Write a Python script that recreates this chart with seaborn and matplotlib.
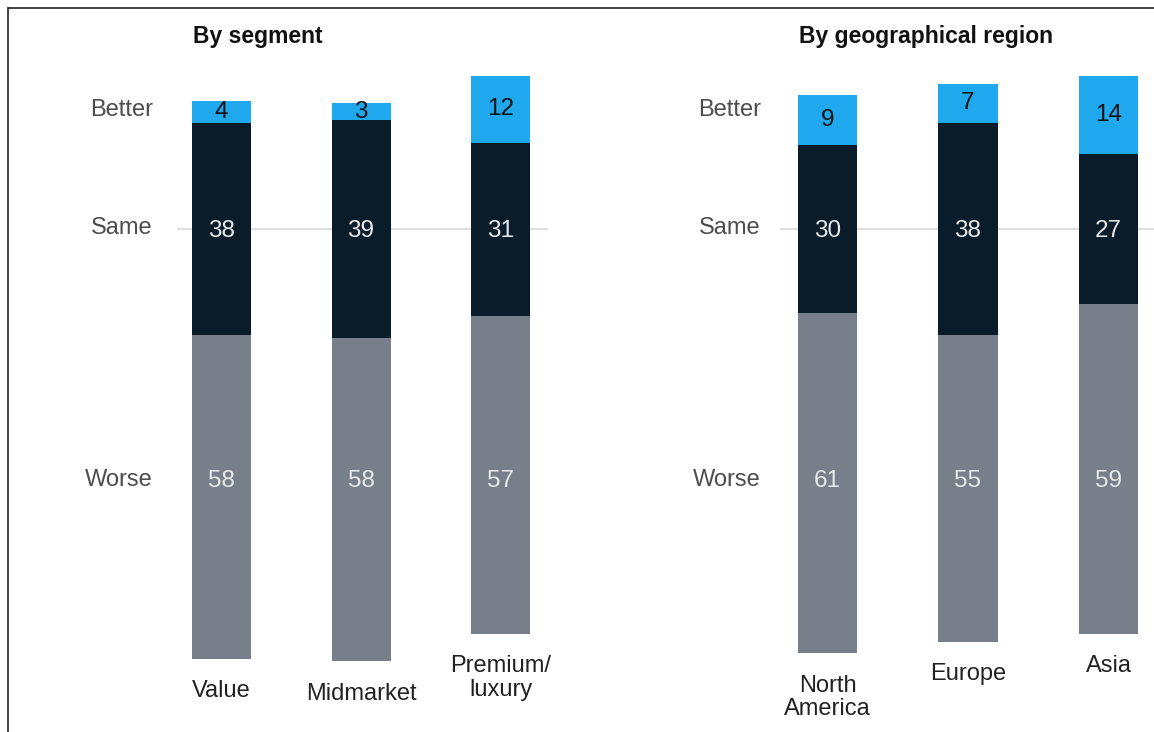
import matplotlib
matplotlib.use("Agg")
import matplotlib.pyplot as plt
from matplotlib.lines import Line2D
import seaborn as sns
import pandas as pd

# Survey shares (%), each column sums to 100
seg_labels = ["Value", "Midmarket", "Premium/\nluxury"]
seg_better = [4, 3, 12]
seg_same = [38, 39, 31]
seg_worse = [58, 58, 57]

reg_labels = ["North\nAmerica", "Europe", "Asia"]
reg_better = [9, 7, 14]
reg_same = [30, 38, 27]
reg_worse = [61, 55, 59]

row_labels = ["Better", "Same", "Worse"]

C_BETTER = "#1fa8ee"
C_SAME = "#0a1c2a"
C_WORSE = "#77808a"
C_RULE = "#dcdcdc"

sns.set_theme(style="white")
plt.rcParams["font.family"] = ["Liberation Sans", "DejaVu Sans"]

W, H = 1154, 732
fig = plt.figure(figsize=(W / 100, H / 100), dpi=100)

Y_TOP, Y_BOT = 32.08, -90.14
ROW_Y = [21.7, 0.6, -44.6]
NUM_SAME_Y = -0.4
NUM_WORSE_Y = -45.2


def panel(rect, labels, better, same, worse, xlim, title, title_x, tick_pad):
    ax = fig.add_axes(rect)
    df = pd.DataFrame({"cat": labels, "better": better, "same": same, "worse": worse})
    # bars are centred on the middle of the "same" segment
    base = [-(w + s / 2) for w, s in zip(worse, same)]
    mid = [b + w for b, w in zip(base, worse)]
    top = [m + s for m, s in zip(mid, same)]

    ax.axhline(0, color=C_RULE, lw=1.3, zorder=0)
    kw = dict(data=df, x="cat", order=labels, width=0.423, errorbar=None,
              saturation=1, linewidth=0, ax=ax, zorder=2)
    sns.barplot(y="worse", bottom=base, color=C_WORSE, **kw)
    sns.barplot(y="same", bottom=mid, color=C_SAME, **kw)
    sns.barplot(y="better", bottom=top, color=C_BETTER, **kw)

    for i in range(len(labels)):
        ax.text(i, NUM_WORSE_Y, f"{worse[i]}", ha="center", va="center",
                fontsize=17.5, color="#e6e8ea", zorder=5)
        ax.text(i, NUM_SAME_Y, f"{same[i]}", ha="center", va="center",
                fontsize=17.5, color="#e6e8ea", zorder=5)
        ax.text(i, top[i] + better[i] / 2, f"{better[i]}", ha="center",
                va="center", fontsize=17.5, color="#111111", zorder=5)
        ax.annotate(labels[i], xy=(i, base[i]), xytext=(0, -15.5),
                    textcoords="offset points", ha="center", va="top",
                    fontsize=17, color="#222222", linespacing=1.1)

    ax.set_xlim(*xlim)
    ax.set_ylim(Y_BOT, Y_TOP)
    ax.set_xticks([])
    ax.set_yticks(ROW_Y, row_labels)
    ax.tick_params(axis="y", length=0, pad=tick_pad, labelsize=17,
                   labelcolor="#4d4d4d")
    ax.set_xlabel("")
    ax.set_ylabel("")
    for sp in ax.spines.values():
        sp.set_visible(False)
    ax.patch.set_alpha(0)

    fig.text(title_x / W, 1 - 43 / H, title, ha="left", va="baseline",
             fontsize=16.5, fontweight="bold", color="#111111")
    return ax


panel([177 / W, 0, 371 / W, 682 / H], seg_labels, seg_better, seg_same, seg_worse,
      (-0.319, 2.340), "By segment", 193, 17.3)
panel([780 / W, 0, 374 / W, 682 / H], reg_labels, reg_better, reg_same, reg_worse,
      (-0.338, 2.324), "By geographical region", 799, 13.7)

# thin frame along the top and left edges
fig.add_artist(Line2D([8 / W, 1], [1 - 7.5 / H, 1 - 7.5 / H], color="#333333",
                      lw=1.3, transform=fig.transFigure))
fig.add_artist(Line2D([8 / W, 8 / W], [0, 1 - 7.5 / H], color="#333333",
                      lw=1.3, transform=fig.transFigure))

fig.savefig("out.png", dpi=100)
